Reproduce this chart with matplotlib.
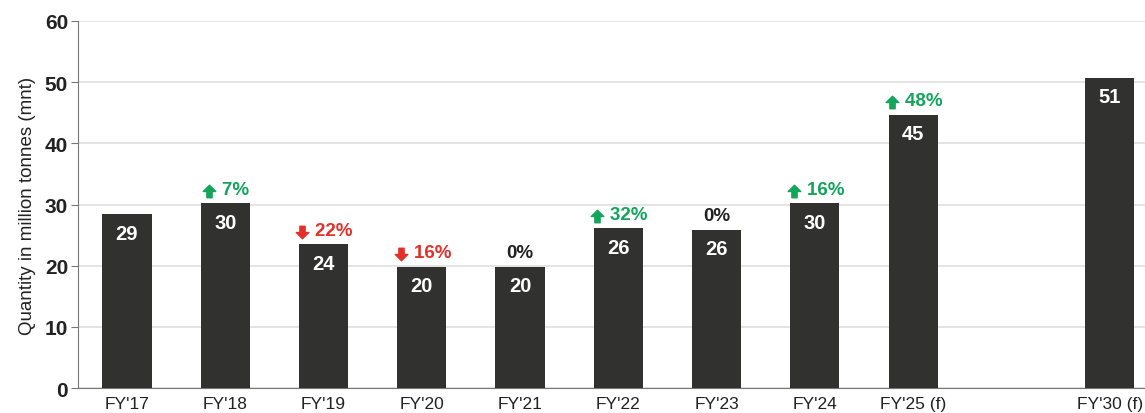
import matplotlib.pyplot as plt
from matplotlib.path import Path

plt.rcParams['font.family'] = ['Liberation Sans', 'DejaVu Sans']

years = ["FY'17", "FY'18", "FY'19", "FY'20", "FY'21", "FY'22", "FY'23", "FY'24", "FY'25 (f)", "FY'30 (f)"]
positions = [0, 1, 2, 3, 4, 5, 6, 7, 8, 10]
quantity = [28.4, 30.2, 23.5, 19.8, 19.8, 26.1, 25.9, 30.2, 44.7, 50.7]
value_labels = ['29', '30', '24', '20', '20', '26', '26', '30', '45', '51']
change_pct = [None, '7%', '22%', '16%', '0%', '32%', '0%', '16%', '48%', None]
change_dir = [None, 'up', 'down', 'down', 'flat', 'up', 'flat', 'up', 'up', None]

bar_color = '#313130'
green = '#12a55b'
red = '#e3302a'

# block arrow marker
up_arrow = Path([(0, 1), (1, 0), (0.42, 0), (0.42, -1), (-0.42, -1), (-0.42, 0), (-1, 0), (0, 1)],
                [Path.MOVETO] + [Path.LINETO] * 6 + [Path.CLOSEPOLY])
down_arrow = Path([(x, -y) for x, y in up_arrow.vertices], up_arrow.codes)

fig = plt.figure(figsize=(11.45, 4.14), dpi=100)
ax = fig.add_axes([0.068, 0.06, 0.932, 0.887])

ax.bar(positions, quantity, width=0.5, color=bar_color, zorder=3)

for x, h, lab in zip(positions, quantity, value_labels):
    ax.text(x, h - 1.5, lab, ha='center', va='top', color='white',
            fontsize=14.5, fontweight='bold', zorder=4)

pct_texts = []
for x, h, pct, d in zip(positions, quantity, change_pct, change_dir):
    if pct is None:
        continue
    if d == 'up':
        col = green
    elif d == 'down':
        col = red
    else:
        col = '#222222'
    lab = pct if d == 'flat' else '    ' + pct
    t = ax.text(x, h + 0.9, lab, ha='center', va='bottom', color=col,
                fontsize=13.5, fontweight='bold')
    pct_texts.append((t, x, h, d, col))

ax.set_ylim(0, 60)
ax.set_xlim(-0.5, 10.36)
ax.set_yticks(range(0, 61, 10))
ax.set_xticks(positions)
ax.set_xticklabels(years, fontsize=12.5, color='#222222')
for t in ax.get_yticklabels():
    t.set_fontweight('bold')
    t.set_fontsize(15)
    t.set_color('#222222')
ax.set_ylabel('Quantity in million tonnes (mnt)', fontsize=13.5, color='#222222', labelpad=6)

ax.grid(axis='y', color='#e2e2e2', linewidth=1.3, zorder=0)
ax.set_axisbelow(True)
for s in ['top', 'right']:
    ax.spines[s].set_visible(False)
ax.spines['left'].set_color('#777777')
ax.spines['bottom'].set_color('#777777')
ax.tick_params(axis='x', length=0, pad=6)
ax.tick_params(axis='y', length=5, color='#777777', pad=2)

# place arrows at the left of each change label
fig.canvas.draw()
renderer = fig.canvas.get_renderer()
for t, x, h, d, col in pct_texts:
    if d == 'flat':
        continue
    bb = t.get_window_extent(renderer)
    x_disp = bb.x0 + 8
    y_disp = bb.y0 + bb.height * 0.42
    xd, yd = ax.transData.inverted().transform((x_disp, y_disp))
    ax.plot([xd], [yd], marker=up_arrow if d == 'up' else down_arrow,
            markersize=9, color=col, linestyle='none', clip_on=False)

fig.savefig('out.png', dpi=100)
